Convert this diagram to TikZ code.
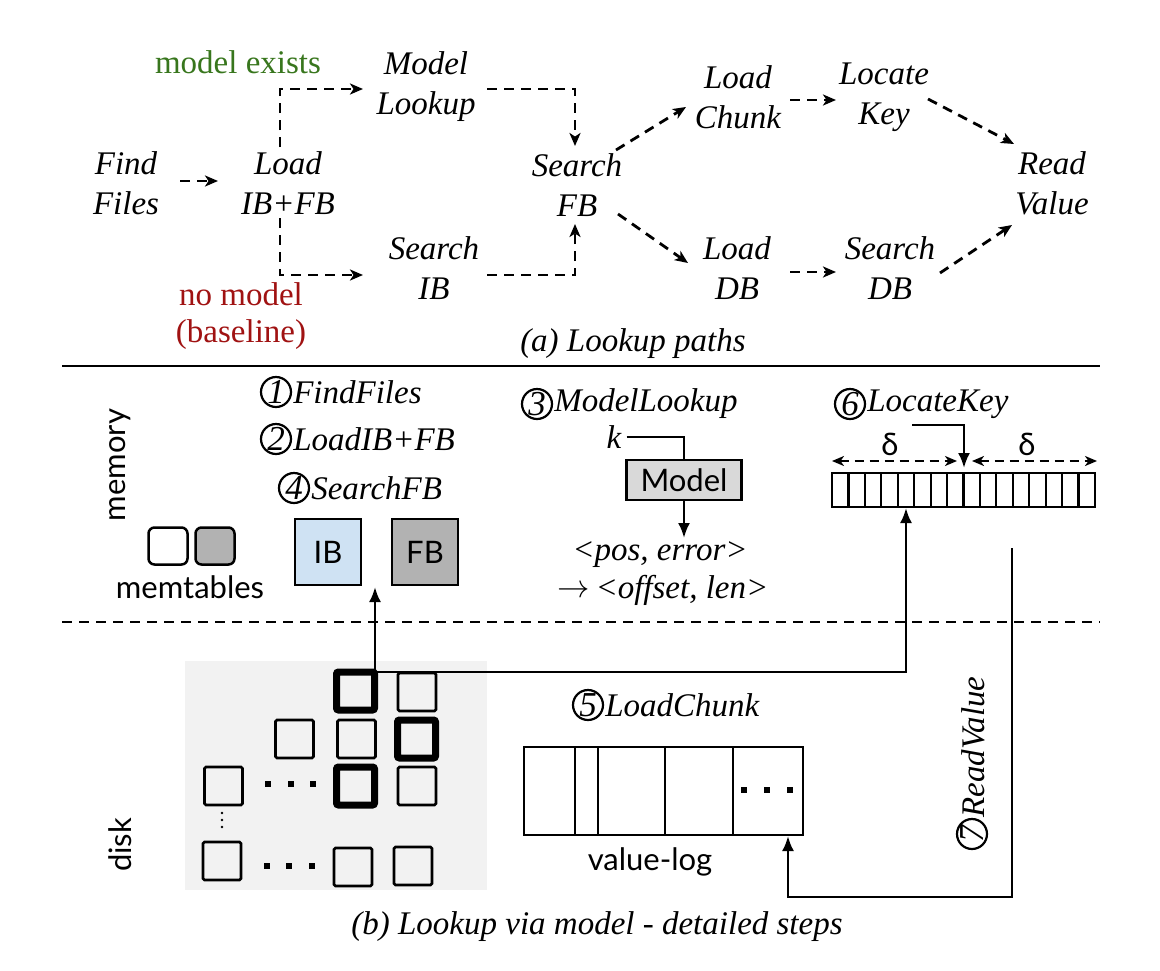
\documentclass[tikz,border=0pt]{standalone}
\usepackage{graphicx}
\usepackage{fontspec}
\setmainfont{Liberation Serif}
\setsansfont{Lato}
\usetikzlibrary{arrows.meta,calc}
\definecolor{mgreen}{RGB}{56,118,29}
\definecolor{mred}{RGB}{160,18,18}
\definecolor{ibblue}{RGB}{207,226,243}
\definecolor{fbgray}{RGB}{178,178,178}
\definecolor{modgray}{RGB}{217,217,217}
\definecolor{diskbg}{RGB}{242,242,242}
\begin{document}
\begin{tikzpicture}[x=1pt,y=-1pt,
  lbl/.style={font=\fontsize{33}{40}\selectfont\itshape, align=center, inner sep=0pt},
  rom/.style={font=\fontsize{33}{37}\selectfont, align=center, inner sep=0pt},
  dpath/.style={line width=2.8pt, dash pattern=on 10pt off 7pt, -{Stealth[length=13pt,width=11pt,inset=3.5pt]}},
  spath/.style={line width=2.5pt, -{Latex[length=15pt,width=12pt]}},
  numc/.style={circle, draw, line width=2.2pt, minimum size=30pt, inner sep=0pt, font=\fontsize{35}{35}\selectfont\itshape},
  steptxt/.style={font=\fontsize{33}{36}\selectfont\itshape, inner sep=0pt, anchor=west},
  sans/.style={font=\fontsize{31}{34}\selectfont\sffamily, inner sep=0pt},
  sq/.style={draw, line width=2.8pt, minimum size=38pt, inner sep=0pt, rounded corners=1.5pt},
  thk/.style={draw, line width=7pt, minimum size=38pt, inner sep=0pt, rounded corners=2pt},
  dotsq/.style={fill, minimum size=5.5pt, inner sep=0pt},
  dblarrow/.style={line width=2.4pt, dash pattern=on 9pt off 6pt, {Stealth[length=12pt,width=10pt,inset=3.5pt]}-{Stealth[length=12pt,width=10pt,inset=3.5pt]}},
]
\path[use as bounding box] (0,0) rectangle (1160,970);

% ---------- (a) ----------
\node[rom, text=mgreen] (me) at (238,62) {model exists};
\node[rom, text=mred] (nm) at (241,316) {no model\\(baseline)};
\node[lbl] (ff) at (126,183) {Find\\Files};
\node[lbl] (ld) at (288,183) {Load\\IB+FB};
\node[lbl] (ml) at (426,87) {Model\\Lookup};
\node[lbl] (si) at (434,268) {Search\\IB};
\node[lbl] (sf) at (577,185) {Search\\FB};
\node[lbl] (lc) at (738,97) {Load\\Chunk};
\node[lbl] (lk) at (884,97) {Locate\\Key};
\node[lbl] (rv) at (1052,183) {Read\\Value};
\node[lbl] (ldb) at (737,268) {Load\\DB};
\node[lbl] (sdb) at (890,268) {Search\\DB};
\node[lbl] (capa) at (633,344) {(a) Lookup paths};

\draw[dpath] (180,181) -- (218,181);
\draw[dpath] (280,147) -- (280,89) -- (363,89);
\draw[dpath] (487,89) -- (575,89) -- (575,146);
\draw[dpath] (280,218) -- (280,275) -- (363,275);
\draw[dpath] (487,275) -- (575,275) -- (575,224);
\draw[dpath] (616,150) -- (686,107);
\draw[dpath] (618,214) -- (688,263);
\draw[dpath] (790,100) -- (836,100);
\draw[dpath] (790,272) -- (836,272);
\draw[dpath] (928,99) -- (1014,144);
\draw[dpath] (940,273) -- (1012,225);

% ---------- separators ----------
\draw[line width=2.5pt] (62,366) -- (1100,366);
\draw[line width=2.5pt, dash pattern=on 10pt off 7pt] (62,622) -- (1100,622);

% ---------- (b) memory ----------
\node[sans, rotate=90] (mem) at (120,465) {memory};
\node[sans, rotate=90] (dsk) at (120,845) {disk};

\node[draw, line width=2.5pt, rounded corners=6pt, minimum width=39pt, minimum height=37pt, fill=white] (mt1) at (168,546) {};
\node[draw, line width=2.5pt, rounded corners=6pt, minimum width=39pt, minimum height=37pt, fill=fbgray] (mt2) at (215,546) {};
\node[sans] (mtl) at (190,587) {memtables};

\node[numc] (c1) at (276,392) {1};
\node[steptxt] at ([xshift=1pt]c1.east) {FindFiles};
\node[numc] (c2) at (276,439) {2};
\node[steptxt] at ([xshift=1pt]c2.east) {LoadIB+FB};
\node[numc] (c4) at (294,488) {4};
\node[steptxt] at ([xshift=1pt]c4.east) {SearchFB};

\node[draw, line width=2.5pt, fill=ibblue, minimum width=66pt, minimum height=66pt, sans] (ib) at (328,552) {IB};
\node[draw, line width=2.5pt, fill=fbgray, minimum width=66pt, minimum height=66pt, sans] (fb) at (425,552) {FB};

\node[numc] (c3) at (537,404) {3};
\node[steptxt] at ([xshift=1pt]c3.east) {ModelLookup};
\node[lbl] (k) at (614,437) {k};
\node[draw, line width=2.5pt, fill=modgray, minimum width=115pt, minimum height=40pt, sans] (model) at (684,480) {Model};
\draw[line width=2.5pt] ([xshift=5pt]k.east) -| (model.north);
\draw[spath] (model.south) -- (684,538);
\node[lbl] (pe) at (660,555) {<pos, error>};
\node[lbl] (ol) at (663,590) {\raisebox{1pt}{\scalebox{1.3}{$\rightarrow$}}\,<offset, len>};

\node[numc] (c6) at (850,404) {6};
\node[steptxt] at ([xshift=1pt]c6.east) {LocateKey};
\node[draw, line width=2.5pt, minimum width=263pt, minimum height=34pt, inner sep=0pt] (arr) at (963.5,490) {};
\foreach \i in {1,...,15} \draw[line width=2.2pt] (832+\i*16.4375,473) -- (832+\i*16.4375,507);
\draw[line width=2.5pt, -{Latex[length=15pt,width=12pt]}] (912,425) -| (964,468);
\draw[dblarrow] (832,461) -- (957,461);
\draw[dblarrow] (972,461) -- (1097,461);
\node[sans] (d1) at (890,444) {δ};
\node[sans] (d2) at (1027,444) {δ};

% ---------- (b) disk ----------
\fill[diskbg] (185,661) rectangle (487,890);
\node[thk] (g11) at (355.5,691) {};
\node[sq]  (g12) at (417,692) {};
\node[sq]  (g20) at (294.5,739) {};
\node[sq]  (g21) at (356.5,739) {};
\node[thk] (g22) at (416.5,739) {};
\node[sq]  (g30) at (223.5,786) {};
\node[thk] (g31) at (355.5,786) {};
\node[sq]  (g32) at (417,786) {};
\node[sq]  (g40) at (222,861) {};
\node[sq]  (g41) at (353,867) {};
\node[sq]  (g42) at (413,866) {};
\foreach \x in {268,291,313} \node[dotsq] at (\x,784) {};
\foreach \x in {267,289,312} \node[dotsq] at (\x,866) {};
\foreach \y in {813,820,827} \fill (222,\y) circle (1.3pt);

\coordinate (jn) at (375,672);
\draw[spath] (jn) -- (375,587);
\draw[spath] (jn) -- (906,672) -- (906,508);

\node[numc] (c5) at (588,705) {5};
\node[steptxt] at ([xshift=1pt]c5.east) {LoadChunk};
\node[draw, line width=2.5pt, minimum width=279pt, minimum height=88pt, inner sep=0pt] (vl) at (663.5,791) {};
\foreach \x in {575,598,665,733} \draw[line width=2.5pt] (\x,747) -- (\x,835);
\foreach \x in {744,767,790} \node[dotsq] at (\x,790) {};
\node[sans] (vll) at (650,862) {value-log};

\draw[spath] (1012,548) -- (1012,897) -- (788,897) -- (788,836);
\node[numc, rotate=90] (c7) at (972,834) {7};
\node[steptxt, rotate=90] at ([xshift=1pt]c7.east) {ReadValue};

\node[lbl] (capb) at (597,927) {(b) Lookup via model - detailed steps};
\end{tikzpicture}
\end{document}
